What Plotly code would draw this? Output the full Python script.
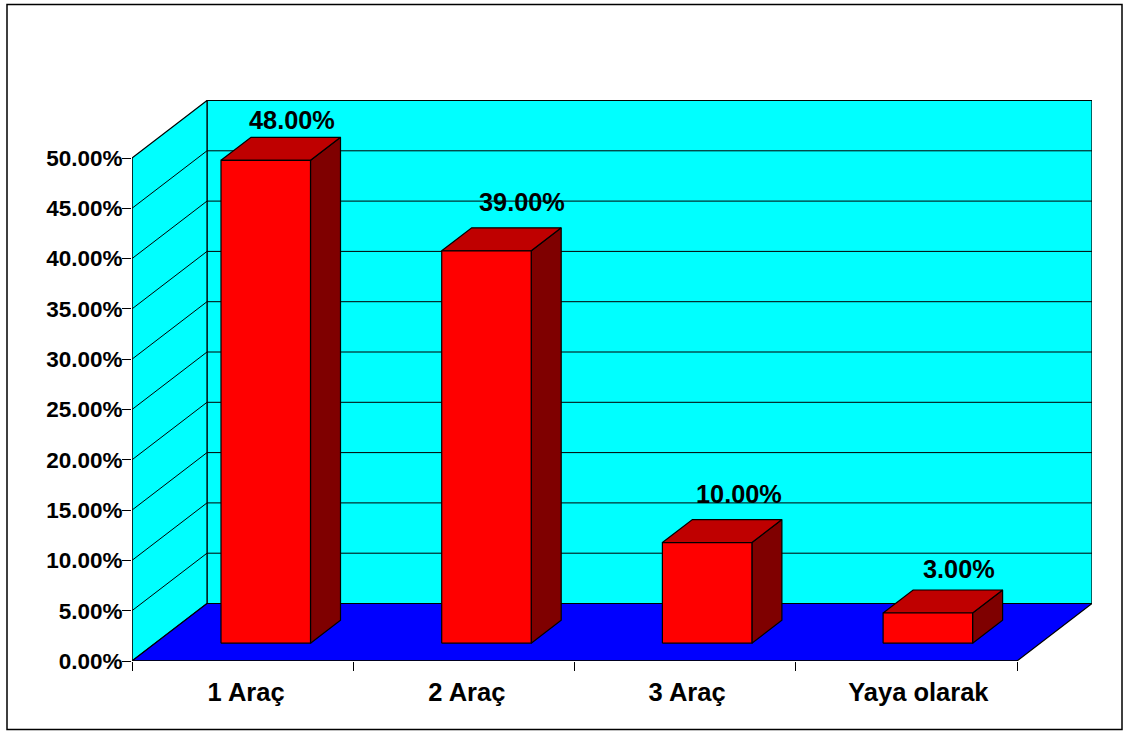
import plotly.graph_objects as go

categories = ["1 Araç", "2 Araç", "3 Araç", "Yaya olarak"]
values = [48, 39, 10, 3]
tick_values = [0, 5, 10, 15, 20, 25, 30, 35, 40, 45, 50]

# pixel layout of the plot frame
PX_LEFT, PX_RIGHT, PX_TOP, PX_BOTTOM = 132, 1092, 100, 661
PX_PER_CAT = (1017 - 132) / 4
PX_PER_VAL = (661 - 158) / 50
# depth of the floor in data units
DEPTH_X = 75 / PX_PER_CAT
DEPTH_Y = 57.5 / PX_PER_VAL
N = len(categories)
BAR_Z0 = 0.31                        # fraction of depth where bar front sits
BAR_DZ = 0.40                        # fraction of depth occupied by bar
BAR_W = 89.5 / PX_PER_CAT
BAR_STEP = 220.7 / PX_PER_CAT
BAR_GAP = (221 - 132) / PX_PER_CAT - BAR_Z0 * DEPTH_X  # bar left at front plane
BLACK = "#000000"
LINE_W = 1.2

# manual label nudges (pixels)
label_dx = [26.5, 35.5, 32, 31.5]
label_dy = [40, 49, 49, 44]
cat_label_dx = [3.5, 3, 2, 12]


def p(x, y, z=0.0):
    return x + z * DEPTH_X, y + z * DEPTH_Y


def poly(pts, fill, line=BLACK, width=LINE_W):
    xs = [a for a, _ in pts] + [pts[0][0]]
    ys = [b for _, b in pts] + [pts[0][1]]
    return go.Scatter(x=xs, y=ys, mode="lines", fill="toself", fillcolor=fill,
                      line=dict(color=line, width=width), hoverinfo="skip",
                      showlegend=False, cliponaxis=False)


def seg(pts, color=BLACK, width=1):
    return go.Scatter(x=[a for a, _ in pts], y=[b for _, b in pts], mode="lines",
                      line=dict(color=color, width=width), hoverinfo="skip",
                      showlegend=False, cliponaxis=False)


fig = go.Figure()
ymax = tick_values[-1]

# walls and floor
fig.add_trace(poly([p(0, 0, 1), p(N, 0, 1), p(N, ymax, 1), p(0, ymax, 1)], "#00FFFF"))
fig.add_trace(poly([p(0, 0, 0), p(0, 0, 1), p(0, ymax, 1), p(0, ymax, 0)], "#00FFFF"))
fig.add_trace(poly([p(0, 0, 0), p(N, 0, 0), p(N, 0, 1), p(0, 0, 1)], "#0000FF"))

# gridlines
for t in tick_values[1:-1]:
    fig.add_trace(seg([p(0, t, 0), p(0, t, 1), p(N, t, 1)]))

# bars
for i, v in enumerate(values):
    x0 = BAR_GAP + i * BAR_STEP
    x1 = x0 + BAR_W
    z0, z1 = BAR_Z0, BAR_Z0 + BAR_DZ
    fig.add_trace(poly([p(x1, 0, z0), p(x1, 0, z1), p(x1, v, z1), p(x1, v, z0)], "#7F0000"))
    fig.add_trace(poly([p(x0, v, z0), p(x1, v, z0), p(x1, v, z1), p(x0, v, z1)], "#BF0000"))
    fig.add_trace(poly([p(x0, 0, z0), p(x1, 0, z0), p(x1, v, z0), p(x0, v, z0)], "#FF0000"))

# axis lines
fig.add_trace(seg([(0, 0), (0, ymax)]))
fig.add_trace(seg([(0, 0), (N, 0)], width=1.5))

annotations = []
for i, v in enumerate(values):
    cx, cy = p(BAR_GAP + i * BAR_STEP + BAR_W / 2, v, BAR_Z0)
    annotations.append(dict(x=cx, y=cy, xref="x", yref="y", text=f"{v:.2f}%",
                            showarrow=False, xanchor="center", yanchor="middle",
                            xshift=label_dx[i], yshift=label_dy[i],
                            font=dict(family="Liberation Sans", size=25.3, color=BLACK, weight="bold")))

W, H = 1128, 731
def px(x): return (x - PX_LEFT) / (PX_RIGHT - PX_LEFT)
def py(y): return (PX_BOTTOM - y) / (PX_BOTTOM - PX_TOP)

fig.update_layout(
    width=W, height=H, autosize=False,
    margin=dict(l=PX_LEFT, r=W - PX_RIGHT, t=PX_TOP, b=H - PX_BOTTOM, pad=0),
    paper_bgcolor="white", plot_bgcolor="white", showlegend=False,
    font=dict(family="Liberation Sans", color=BLACK),
    annotations=annotations,
    xaxis=dict(range=[0, N + DEPTH_X], showgrid=False, zeroline=False, showline=False,
               tickmode="array",
               tickvals=[i + 0.5 + cat_label_dx[i] / PX_PER_CAT for i in range(N)],
               ticktext=categories,
               ticks="", ticklen=0, ticklabelstandoff=13,
               tickfont=dict(family="Liberation Sans", size=25.5, color=BLACK, weight="bold"),
               minor=dict(tickmode="array", tickvals=list(range(N + 1)), ticks="outside",
                          ticklen=9, tickwidth=1, tickcolor=BLACK, showgrid=False)),
    yaxis=dict(range=[0, (PX_BOTTOM - PX_TOP) / PX_PER_VAL], showgrid=False, zeroline=False,
               showline=False, tickmode="array", tickvals=tick_values,
               ticktext=[f"{t:.2f}%" for t in tick_values], ticks="outside", ticklen=9,
               tickwidth=1, tickcolor=BLACK, ticklabelstandoff=-5,
               tickfont=dict(family="Liberation Sans", size=22.5, color=BLACK, weight="bold")),
    shapes=[dict(type="rect", xref="paper", yref="paper", x0=px(7), x1=px(1122),
                 y0=py(4.5), y1=py(729.5), line=dict(color=BLACK, width=1.5), layer="below")],
)
fig.write_html("out.html", config=dict(displayModeBar=False),
               post_script="document.documentElement.style.margin='0';document.body.style.margin='0';")
